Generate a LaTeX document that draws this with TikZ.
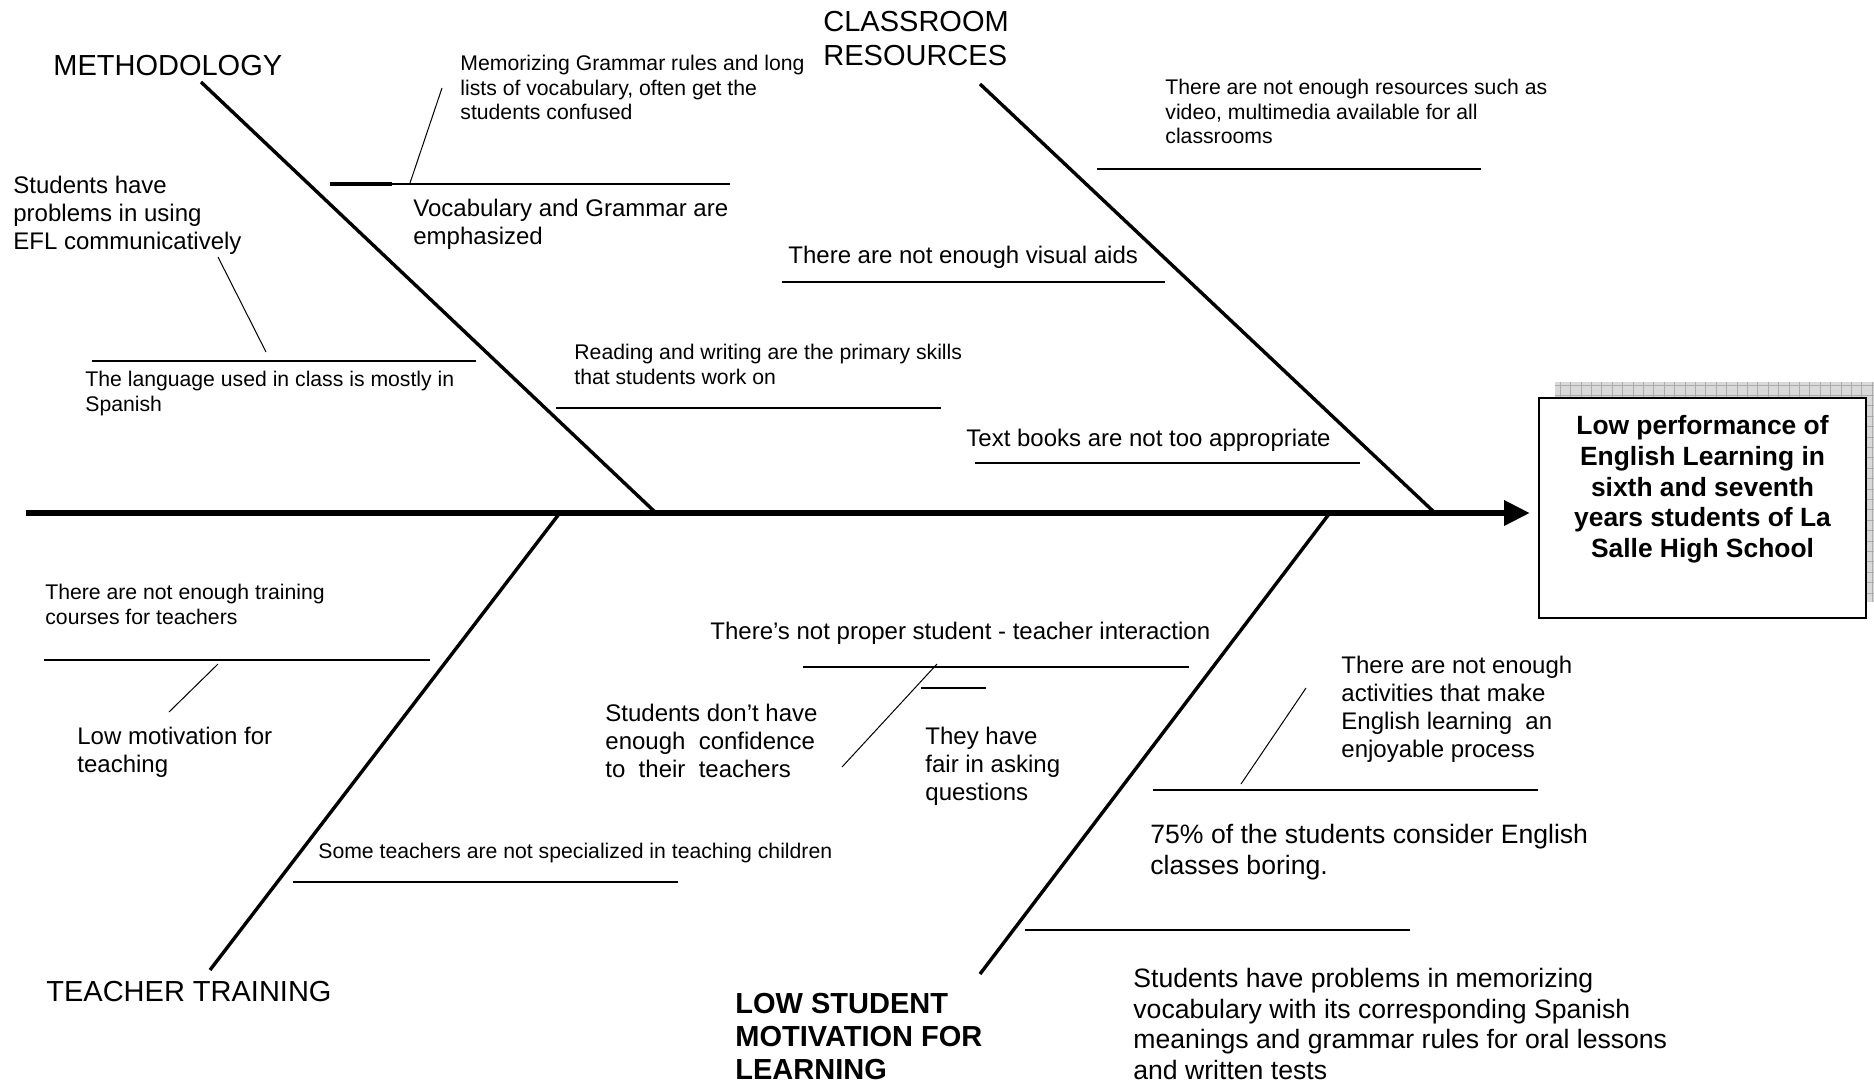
\documentclass[tikz,border=0pt]{standalone}
\usepackage{fontspec}
\setmainfont{Liberation Sans}
\usetikzlibrary{arrows.meta,positioning}

\begin{document}
\begin{tikzpicture}[
  x=0.5pt,y=-0.5pt,
  small/.style={anchor=north west,inner sep=0pt,align=left,font=\fontsize{10.6}{12.25}\selectfont},
  cause/.style={anchor=north west,inner sep=0pt,align=left,font=\fontsize{12}{14}\selectfont},
  wide/.style={cause,font=\fontsize{13.3}{15.3}\selectfont},
  category/.style={anchor=north west,inner sep=0pt,align=left,font=\fontsize{14.5}{16.75}\selectfont},
  strong/.style={category,font=\bfseries\fontsize{14.5}{16.5}\selectfont},
  bone/.style={line width=1.7pt},
  rib/.style={line width=1.4pt},
  leader/.style={line width=0.5pt},
  spine/.style={line width=3.2pt,-{Triangle[length=13pt,width=12pt]}},
  effect/.style={draw,line width=1pt,fill=white,minimum width=163.5pt,minimum height=110pt},
  effecttext/.style={inner sep=0pt,align=center,font=\bfseries\fontsize{13.2}{15.4}\selectfont}
]
\useasboundingbox (0,0) rectangle (1874,1084);

\fill[gray!30] (1555,382) rectangle (1882,602);
\draw[gray!65,line width=0.3pt,step=5.2pt] (1555,382) grid (1882,602);
\node[effect] (effect) at (1702.5,508) {};
\node[effecttext,below=9pt of effect.north] (effecttxt) {Low performance of\\English Learning in\\sixth and seventh\\years students of La\\Salle High School};

\coordinate (tail) at (26,513);
\coordinate (head) at (1530,513);
\draw[spine] (tail) -- (head);

\coordinate (m0) at (201,82);
\coordinate (m1) at (655,512);
\coordinate (c0) at (980,84);
\coordinate (c1) at (1434,512);
\coordinate (t0) at (559,514);
\coordinate (t1) at (210,970);
\coordinate (s0) at (1329,514);
\coordinate (s1) at (980,974);
\draw[bone] (m0) -- (m1);
\draw[bone] (c0) -- (c1);
\draw[bone] (t0) -- (t1);
\draw[bone] (s0) -- (s1);

\draw[rib] (330,184) -- (730,184);
\draw[line width=2.1pt] (330,184) -- (392,184);
\draw[rib] (92,361) -- (476,361);
\draw[rib] (556,408) -- (941,408);
\draw[rib] (1097,169) -- (1481,169);
\draw[rib] (782,282) -- (1165,282);
\draw[rib] (975,463) -- (1360,463);
\draw[rib] (44,660) -- (430,660);
\draw[rib] (293,882) -- (678,882);
\draw[rib] (803,667) -- (1189,667);
\draw[rib] (921,688) -- (986,688);
\draw[rib] (1153,790) -- (1538,790);
\draw[rib] (1025,930) -- (1410,930);

\draw[leader] (410,183) -- (442,88);
\draw[leader] (266,352) -- (218,257);
\draw[leader] (218,664) -- (169,712);
\draw[leader] (937,664) -- (842,767);
\draw[leader] (1306,688) -- (1241,784);

\node[category] (methodology) at (53,55) {METHODOLOGY};
\node[category] (classroom) at (823,11) {CLASSROOM\\RESOURCES};
\node[category] (training) at (46,981) {TEACHER TRAINING};
\node[strong] (motivation) at (735,993) {LOW STUDENT\\MOTIVATION FOR\\LEARNING};

\node[small] (memorizing) at (460,55) {Memorizing Grammar rules and long\\lists of vocabulary, often get the\\students confused};
\node[small] (language) at (85,371) {The language used in class is mostly in\\Spanish};
\node[small] (reading) at (574,344) {Reading and writing are the primary skills\\that students work on};
\node[small] (resources) at (1165,79) {There are not enough resources such as\\video, multimedia available for all\\classrooms};
\node[small] (courses) at (45,584) {There are not enough training\\courses for teachers};
\node[small] (specialized) at (318,843) {Some teachers are not specialized in teaching children};

\node[cause] (efl) at (13,176) {Students have\\problems in using\\EFL communicatively};
\node[cause] (vocabulary) at (413,199) {Vocabulary and Grammar are\\emphasized};
\node[cause] (visual) at (788,246) {There are not enough visual aids};
\node[cause] (textbooks) at (966,429) {Text books are not too appropriate};
\node[cause] (teaching) at (77,727) {Low motivation for\\teaching};
\node[cause] (interaction) at (710,622) {There’s not proper student - teacher interaction};
\node[cause] (confidence) at (605,704) {Students don’t have\\enough\ \ confidence\\to\ \ their\ \ teachers};
\node[cause] (questions) at (925,727) {They have\\fair in asking\\questions};
\node[cause] (activities) at (1341,656) {There are not enough\\activities that make\\English learning\ \ an\\enjoyable process};
\node[wide] (boring) at (1150,824) {75\% of the students consider English\\classes boring.};
\node[wide] (vocabproblems) at (1133,968) {Students have problems in memorizing\\vocabulary with its corresponding Spanish\\meanings and grammar rules for oral lessons\\and written tests};
\end{tikzpicture}
\end{document}
